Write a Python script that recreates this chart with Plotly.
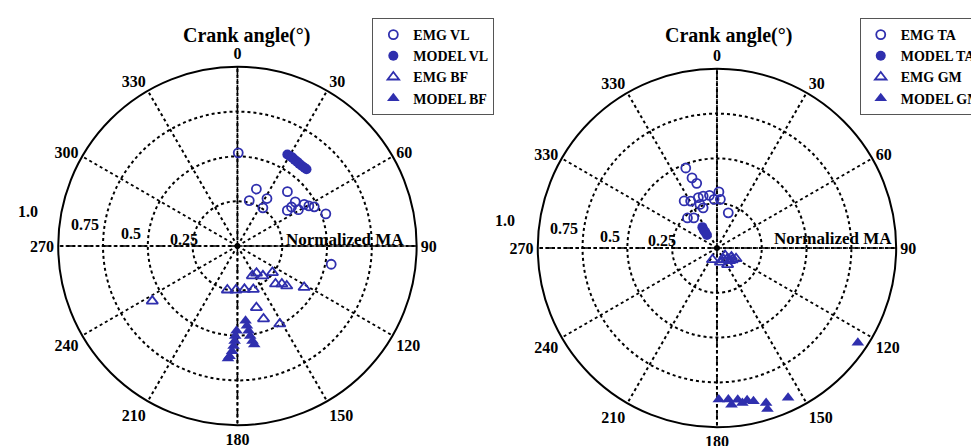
import plotly.graph_objects as go

# ---------------- data (r = normalized MA, theta = crank angle deg) ----------------
emg_vl_r = [0.52, 0.335, 0.262, 0.312, 0.256, 0.412, 0.406, 0.342, 0.396, 0.439, 0.457, 0.481, 0.525, 0.533, 0.372]
emg_vl_t = [0.5, 18.4, 14.6, 31.9, 33.7, 42.6, 52.6, 54.5, 59.2, 58.0, 60.7, 63.0, 70.0, 101.0, 54.2]

model_vl_r = [0.582, 0.581, 0.581, 0.577, 0.576, 0.574, 0.574, 0.575, 0.576]
model_vl_t = [28.6, 30.3, 31.9, 33.6, 35.4, 37.0, 38.9, 40.6, 42.0]

emg_bf_r = [0.566, 0.252, 0.246, 0.245, 0.258, 0.186, 0.185, 0.219, 0.245, 0.300, 0.326, 0.354, 0.438, 0.360, 0.432, 0.495]
emg_bf_t = [237.1, 192.9, 182.0, 170.8, 159.9, 153.4, 144.9, 139.5, 127.2, 134.9, 130.5, 129.0, 121.8, 162.9, 160.3, 151.5]

model_bf_r = [0.473, 0.502, 0.530, 0.559, 0.588, 0.617, 0.630, 0.419, 0.448, 0.477, 0.507, 0.537, 0.557]
model_bf_t = [180.6, 181.4, 181.7, 182.2, 182.9, 184.1, 184.8, 173.8, 173.2, 172.5, 171.9, 171.0, 170.3]

emg_ta_r = [0.479, 0.415, 0.378, 0.320, 0.300, 0.300, 0.300, 0.297, 0.313, 0.272, 0.272, 0.237, 0.235, 0.212, 0.206, 0.261]
emg_ta_t = [338.7, 340.4, 342.6, 325.1, 330.7, 339.7, 345.1, 351.9, 2.0, 4.0, 356.6, 341.0, 315.5, 322.3, 17.8, 338.6]

model_ta_r = [0.142, 0.125, 0.110, 0.092]
model_ta_t = [325.0, 323.8, 323.6, 322.5]

emg_gm_r = [0.070, 0.081, 0.110, 0.061, 0.095, 0.122, 0.085, 0.100, 0.075, 0.108]
emg_gm_t = [201.0, 166.5, 147.3, 132.3, 121.7, 119.3, 140.0, 135.0, 150.0, 128.0]

model_gm_r = [0.947, 0.925, 0.907, 0.942, 0.879, 0.866, 0.854, 0.848, 0.846, 0.878, 0.877]
model_gm_t = [123.9, 154.6, 162.4, 162.6, 166.6, 168.8, 172.2, 175.7, 179.3, 174.7, 170.7]

angle_ticks = list(range(0, 360, 30))
left_ticktext = [str(a) for a in angle_ticks]
right_ticktext = ["0", "30", "60", "90", "120", "150", "180", "210", "240", "270", "330", "330"]
radial_ticks = [0.25, 0.5, 0.75]

# ---------------- style ----------------
BLUE = "#2f2fae"
SERIF = "Liberation Serif, Times New Roman, serif"
W, H = 979, 446

fig = go.Figure()


def add_series(subplot, legend, name_open_c, ro, to, name_fill_c, rf, tf,
               name_open_t, rot, tot, name_fill_t, rft, tft):
    fig.add_trace(go.Scatterpolar(r=ro, theta=to, mode="markers", name=name_open_c,
                                  subplot=subplot, legend=legend,
                                  marker=dict(symbol="circle-open", size=9, color=BLUE,
                                              line=dict(width=1.8, color=BLUE))))
    fig.add_trace(go.Scatterpolar(r=rf, theta=tf, mode="markers", name=name_fill_c,
                                  subplot=subplot, legend=legend,
                                  marker=dict(symbol="circle", size=10, color=BLUE)))
    fig.add_trace(go.Scatterpolar(r=rot, theta=tot, mode="markers", name=name_open_t,
                                  subplot=subplot, legend=legend,
                                  marker=dict(symbol="triangle-up-open", size=10, color=BLUE,
                                              line=dict(width=1.8, color=BLUE))))
    fig.add_trace(go.Scatterpolar(r=rft, theta=tft, mode="markers", name=name_fill_t,
                                  subplot=subplot, legend=legend,
                                  marker=dict(symbol="triangle-up", size=11, color=BLUE)))


# dash-dot main axes
for sp in ["polar", "polar2"]:
    for th in [[0, 0, 180], [90, 90, 270]]:
        fig.add_trace(go.Scatterpolar(r=[1, 0, 1], theta=th, mode="lines", subplot=sp,
                                      showlegend=False, hoverinfo="skip",
                                      line=dict(color="black", width=1.6, dash="dashdot")))

add_series("polar", "legend", "EMG VL", emg_vl_r, emg_vl_t, "MODEL VL", model_vl_r, model_vl_t,
           "EMG BF", emg_bf_r, emg_bf_t, "MODEL BF", model_bf_r, model_bf_t)
add_series("polar2", "legend2", "EMG TA", emg_ta_r, emg_ta_t, "MODEL TA", model_ta_r, model_ta_t,
           "EMG GM", emg_gm_r, emg_gm_t, "MODEL GM", model_gm_r, model_gm_t)

R = 182
DX, DY = -5, -8   # empirical placement correction for the polar circle


def px(x):
    return x / W


def py(y):
    return 1 - y / H


def dom(cx, cy):
    cx, cy = cx + DX, cy + DY
    return dict(x=[px(cx - R), px(cx + R)], y=[py(cy + R), py(cy - R)])


def polar_layout(cx, cy, ticktext):
    return dict(
        domain=dom(cx, cy),
        bgcolor="white",
        radialaxis=dict(range=[0, 1], tickvals=radial_ticks, showticklabels=False, ticks="",
                        showline=False, showgrid=True, gridcolor="black", gridwidth=1.6,
                        griddash="dot"),
        angularaxis=dict(rotation=90, direction="clockwise", tickvals=angle_ticks,
                         ticktext=ticktext, ticks="", showline=True, linecolor="black",
                         linewidth=2, showgrid=True, gridcolor="black", gridwidth=1.6,
                         griddash="dot",
                         tickfont=dict(family=SERIF, size=16, color="black", weight="bold")),
    )


legend_common = dict(bgcolor="white", bordercolor="#555555", borderwidth=1,
                     font=dict(family=SERIF, size=14, color="black", weight="bold"),
                     xanchor="left", yanchor="top", itemwidth=30, tracegroupgap=0)

fig.update_layout(
    width=W, height=H, margin=dict(l=0, r=0, t=0, b=0),
    paper_bgcolor="white", plot_bgcolor="white",
    polar=polar_layout(238, 246, left_ticktext),
    polar2=polar_layout(725, 248, right_ticktext),
    legend=dict(x=px(370), y=py(10), **legend_common),
    legend2=dict(x=px(865), y=py(10), **legend_common),
)

anns = []


def txt(x, y, s, size=15):
    anns.append(dict(x=px(x), y=py(y), xref="paper", yref="paper", text=s, showarrow=False,
                     font=dict(family=SERIF, size=size, color="black", weight="bold"),
                     xanchor="center", yanchor="middle"))


# titles
txt(242, 28, "Crank angle(°)", 20)
txt(732, 28, "Crank angle(°)", 20)
# normalized MA labels
txt(342, 231, "Normalized MA", 17)
txt(838, 230, "Normalized MA", 17)
# radial labels
for (x, y, s) in [(20, 203, "1.0"), (78, 217, "0.75"), (125, 225, "0.5"), (179, 232, "0.25")]:
    txt(x, y, s, 16)
for (x, y, s) in [(505, 213, "1.0"), (565, 220, "0.75"), (611, 228, "0.5"), (664, 233, "0.25")]:
    txt(x, y, s, 16)

fig.update_layout(annotations=anns)
fig.write_html("out.html")
